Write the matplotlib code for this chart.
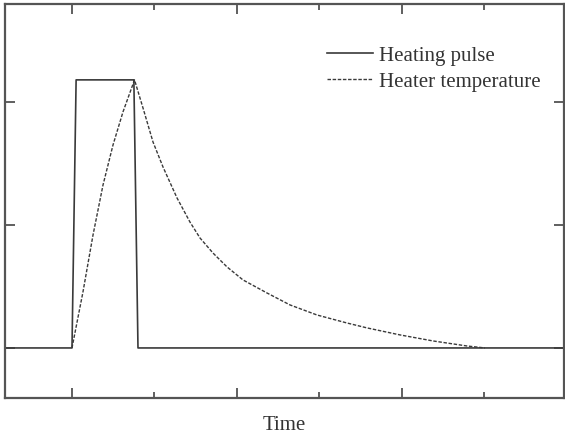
import matplotlib
matplotlib.use('Agg')
import matplotlib.pyplot as plt
from matplotlib.ticker import MultipleLocator

plt.rcParams['font.family'] = ['Liberation Serif', 'DejaVu Serif']

# heating pulse (square wave with slightly slanted edges)
pulse_t = [-0.82, 0.0, 0.05, 0.75, 0.80, 6.0]
pulse_y = [0.0, 0.0, 2.18, 2.18, 0.0, 0.0]

# heater temperature
temp_t = [0.0, 0.133, 0.255, 0.376, 0.497, 0.618, 0.758,
          0.861, 0.982, 1.103, 1.273, 1.430, 1.552, 1.709, 1.879, 2.073,
          2.364, 2.642, 2.970, 3.333, 3.576, 3.976, 4.376, 4.788, 5.006]
temp_y = [0.0, 0.455, 0.919, 1.325, 1.650, 1.919, 2.18,
          1.951, 1.675, 1.472, 1.220, 1.024, 0.894, 0.772, 0.659, 0.553,
          0.447, 0.350, 0.268, 0.203, 0.163, 0.106, 0.057, 0.016, 0.0]

line_col = '#3a3a3a'

fig = plt.figure(figsize=(5.65, 4.38), dpi=100)
ax = fig.add_axes([5 / 565, 40 / 438, 559 / 565, 394 / 438])

ax.plot(pulse_t, pulse_y, color=line_col, lw=1.2, label='Heating pulse')
ax.plot(temp_t, temp_y, color=line_col, lw=1.0, linestyle=(0, (2.5, 1.2)),
        label='Heater temperature')

ax.set_xlim(-0.812, 5.964)
ax.set_ylim(-0.407, 2.797)

ax.xaxis.set_major_locator(MultipleLocator(2))
ax.xaxis.set_minor_locator(MultipleLocator(1))
ax.yaxis.set_major_locator(MultipleLocator(1))
ax.tick_params(which='both', direction='in', top=True, right=True,
               labelbottom=False, labelleft=False, color='#444444', width=1.2)
ax.tick_params(which='major', length=7)
ax.tick_params(which='minor', length=4)

for s in ax.spines.values():
    s.set_color('#555555')
    s.set_linewidth(1.6)

ax.set_xlabel('Time', fontsize=15, color='#333333', labelpad=13)

leg = ax.legend(loc='upper left', bbox_to_anchor=(0.576, 0.893), frameon=False,
                fontsize=15, handlelength=2.2, handletextpad=0.3,
                labelspacing=0.3, borderpad=0, borderaxespad=0)
for t in leg.get_texts():
    t.set_color('#333333')

fig.savefig('out.png', dpi=100)
